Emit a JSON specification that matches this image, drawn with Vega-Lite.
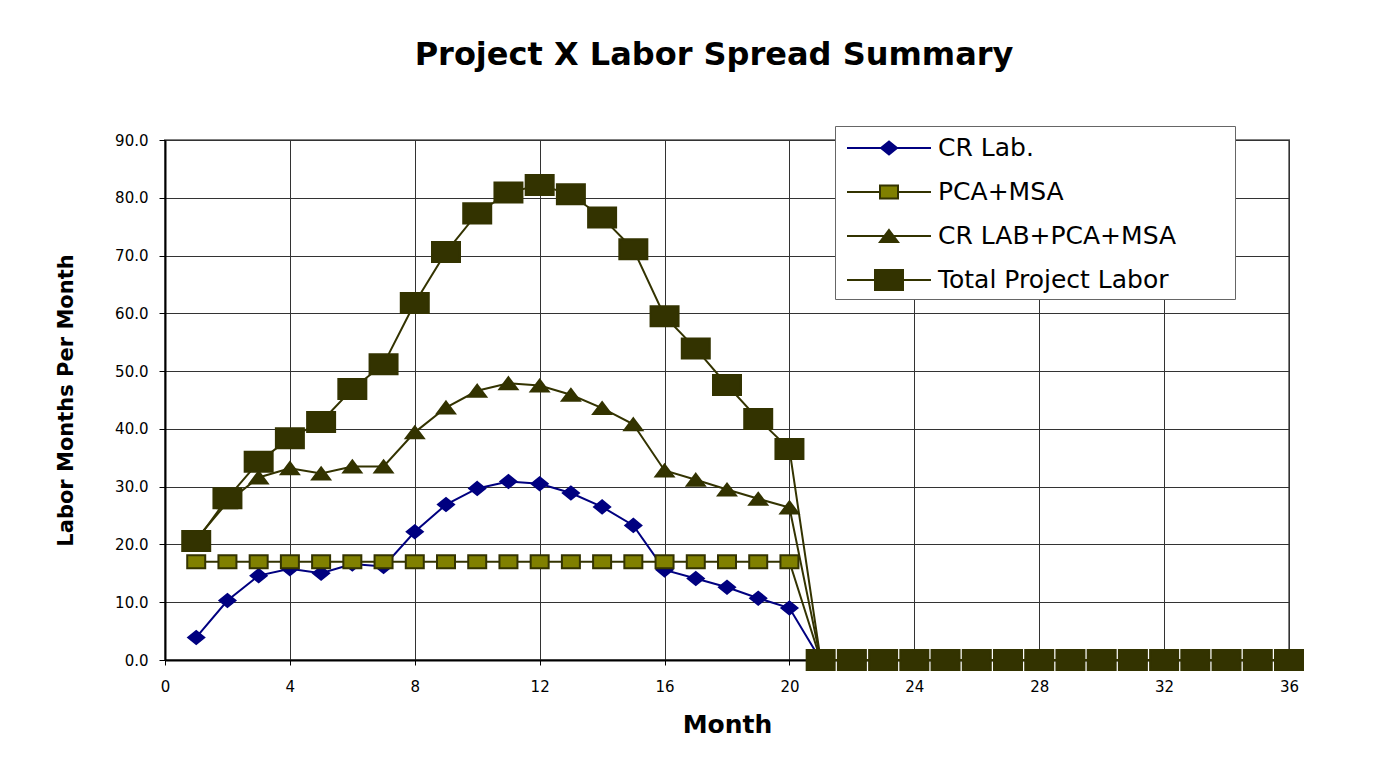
{
  "$schema": "https://vega.github.io/schema/vega-lite/v6.json",
  "width": 1124,
  "height": 520,
  "autosize": "none",
  "padding": {"left": 165, "top": 140, "right": 95, "bottom": 113},
  "background": "white",
  "title": {"text": "Project X Labor Spread Summary", "font": "DejaVu Sans", "fontSize": 32, "fontWeight": "bold", "color": "#000000", "anchor": "middle", "frame": "group", "offset": 54, "dx": -13},
  "config": {
    "view": {"stroke": "#808080", "strokeWidth": 2},
    "axis": {"labelFont": "DejaVu Sans", "labelFontSize": 15, "labelColor": "#000000", "titleFont": "DejaVu Sans", "titleFontWeight": "bold", "titleColor": "#000000", "domainColor": "#000000", "domainWidth": 2, "tickColor": "#000000", "gridColor": "#333333", "gridWidth": 1, "grid": true}
  },
  "data": {"values": [
    {"m":1,"s":"CR Lab.","v":3.9},{"m":2,"s":"CR Lab.","v":10.3},{"m":3,"s":"CR Lab.","v":14.6},{"m":4,"s":"CR Lab.","v":15.8},{"m":5,"s":"CR Lab.","v":15.0},{"m":6,"s":"CR Lab.","v":16.6},{"m":7,"s":"CR Lab.","v":16.2},{"m":8,"s":"CR Lab.","v":22.2},{"m":9,"s":"CR Lab.","v":26.9},{"m":10,"s":"CR Lab.","v":29.7},{"m":11,"s":"CR Lab.","v":30.9},{"m":12,"s":"CR Lab.","v":30.5},{"m":13,"s":"CR Lab.","v":28.9},{"m":14,"s":"CR Lab.","v":26.5},{"m":15,"s":"CR Lab.","v":23.3},{"m":16,"s":"CR Lab.","v":15.6},{"m":17,"s":"CR Lab.","v":14.1},{"m":18,"s":"CR Lab.","v":12.6},{"m":19,"s":"CR Lab.","v":10.7},{"m":20,"s":"CR Lab.","v":9.0},{"m":21,"s":"CR Lab.","v":0},{"m":22,"s":"CR Lab.","v":0},{"m":23,"s":"CR Lab.","v":0},{"m":24,"s":"CR Lab.","v":0},{"m":25,"s":"CR Lab.","v":0},{"m":26,"s":"CR Lab.","v":0},{"m":27,"s":"CR Lab.","v":0},{"m":28,"s":"CR Lab.","v":0},{"m":29,"s":"CR Lab.","v":0},{"m":30,"s":"CR Lab.","v":0},{"m":31,"s":"CR Lab.","v":0},{"m":32,"s":"CR Lab.","v":0},{"m":33,"s":"CR Lab.","v":0},{"m":34,"s":"CR Lab.","v":0},{"m":35,"s":"CR Lab.","v":0},{"m":36,"s":"CR Lab.","v":0},
    {"m":1,"s":"PCA+MSA","v":17.0},{"m":2,"s":"PCA+MSA","v":17.0},{"m":3,"s":"PCA+MSA","v":17.0},{"m":4,"s":"PCA+MSA","v":17.0},{"m":5,"s":"PCA+MSA","v":17.0},{"m":6,"s":"PCA+MSA","v":17.0},{"m":7,"s":"PCA+MSA","v":17.0},{"m":8,"s":"PCA+MSA","v":17.0},{"m":9,"s":"PCA+MSA","v":17.0},{"m":10,"s":"PCA+MSA","v":17.0},{"m":11,"s":"PCA+MSA","v":17.0},{"m":12,"s":"PCA+MSA","v":17.0},{"m":13,"s":"PCA+MSA","v":17.0},{"m":14,"s":"PCA+MSA","v":17.0},{"m":15,"s":"PCA+MSA","v":17.0},{"m":16,"s":"PCA+MSA","v":17.0},{"m":17,"s":"PCA+MSA","v":17.0},{"m":18,"s":"PCA+MSA","v":17.0},{"m":19,"s":"PCA+MSA","v":17.0},{"m":20,"s":"PCA+MSA","v":17.0},{"m":21,"s":"PCA+MSA","v":0},{"m":22,"s":"PCA+MSA","v":0},{"m":23,"s":"PCA+MSA","v":0},{"m":24,"s":"PCA+MSA","v":0},{"m":25,"s":"PCA+MSA","v":0},{"m":26,"s":"PCA+MSA","v":0},{"m":27,"s":"PCA+MSA","v":0},{"m":28,"s":"PCA+MSA","v":0},{"m":29,"s":"PCA+MSA","v":0},{"m":30,"s":"PCA+MSA","v":0},{"m":31,"s":"PCA+MSA","v":0},{"m":32,"s":"PCA+MSA","v":0},{"m":33,"s":"PCA+MSA","v":0},{"m":34,"s":"PCA+MSA","v":0},{"m":35,"s":"PCA+MSA","v":0},{"m":36,"s":"PCA+MSA","v":0},
    {"m":1,"s":"CR LAB+PCA+MSA","v":20.9},{"m":2,"s":"CR LAB+PCA+MSA","v":27.3},{"m":3,"s":"CR LAB+PCA+MSA","v":31.6},{"m":4,"s":"CR LAB+PCA+MSA","v":33.2},{"m":5,"s":"CR LAB+PCA+MSA","v":32.3},{"m":6,"s":"CR LAB+PCA+MSA","v":33.5},{"m":7,"s":"CR LAB+PCA+MSA","v":33.5},{"m":8,"s":"CR LAB+PCA+MSA","v":39.4},{"m":9,"s":"CR LAB+PCA+MSA","v":43.7},{"m":10,"s":"CR LAB+PCA+MSA","v":46.6},{"m":11,"s":"CR LAB+PCA+MSA","v":47.9},{"m":12,"s":"CR LAB+PCA+MSA","v":47.5},{"m":13,"s":"CR LAB+PCA+MSA","v":45.9},{"m":14,"s":"CR LAB+PCA+MSA","v":43.6},{"m":15,"s":"CR LAB+PCA+MSA","v":40.8},{"m":16,"s":"CR LAB+PCA+MSA","v":32.8},{"m":17,"s":"CR LAB+PCA+MSA","v":31.2},{"m":18,"s":"CR LAB+PCA+MSA","v":29.5},{"m":19,"s":"CR LAB+PCA+MSA","v":27.9},{"m":20,"s":"CR LAB+PCA+MSA","v":26.4},{"m":21,"s":"CR LAB+PCA+MSA","v":0},{"m":22,"s":"CR LAB+PCA+MSA","v":0},{"m":23,"s":"CR LAB+PCA+MSA","v":0},{"m":24,"s":"CR LAB+PCA+MSA","v":0},{"m":25,"s":"CR LAB+PCA+MSA","v":0},{"m":26,"s":"CR LAB+PCA+MSA","v":0},{"m":27,"s":"CR LAB+PCA+MSA","v":0},{"m":28,"s":"CR LAB+PCA+MSA","v":0},{"m":29,"s":"CR LAB+PCA+MSA","v":0},{"m":30,"s":"CR LAB+PCA+MSA","v":0},{"m":31,"s":"CR LAB+PCA+MSA","v":0},{"m":32,"s":"CR LAB+PCA+MSA","v":0},{"m":33,"s":"CR LAB+PCA+MSA","v":0},{"m":34,"s":"CR LAB+PCA+MSA","v":0},{"m":35,"s":"CR LAB+PCA+MSA","v":0},{"m":36,"s":"CR LAB+PCA+MSA","v":0},
    {"m":1,"s":"Total Project Labor","v":20.6},{"m":2,"s":"Total Project Labor","v":28.0},{"m":3,"s":"Total Project Labor","v":34.3},{"m":4,"s":"Total Project Labor","v":38.4},{"m":5,"s":"Total Project Labor","v":41.2},{"m":6,"s":"Total Project Labor","v":46.9},{"m":7,"s":"Total Project Labor","v":51.2},{"m":8,"s":"Total Project Labor","v":61.8},{"m":9,"s":"Total Project Labor","v":70.6},{"m":10,"s":"Total Project Labor","v":77.3},{"m":11,"s":"Total Project Labor","v":80.9},{"m":12,"s":"Total Project Labor","v":82.2},{"m":13,"s":"Total Project Labor","v":80.6},{"m":14,"s":"Total Project Labor","v":76.6},{"m":15,"s":"Total Project Labor","v":71.1},{"m":16,"s":"Total Project Labor","v":59.5},{"m":17,"s":"Total Project Labor","v":53.9},{"m":18,"s":"Total Project Labor","v":47.6},{"m":19,"s":"Total Project Labor","v":41.7},{"m":20,"s":"Total Project Labor","v":36.5},{"m":21,"s":"Total Project Labor","v":0},{"m":22,"s":"Total Project Labor","v":0},{"m":23,"s":"Total Project Labor","v":0},{"m":24,"s":"Total Project Labor","v":0},{"m":25,"s":"Total Project Labor","v":0},{"m":26,"s":"Total Project Labor","v":0},{"m":27,"s":"Total Project Labor","v":0},{"m":28,"s":"Total Project Labor","v":0},{"m":29,"s":"Total Project Labor","v":0},{"m":30,"s":"Total Project Labor","v":0},{"m":31,"s":"Total Project Labor","v":0},{"m":32,"s":"Total Project Labor","v":0},{"m":33,"s":"Total Project Labor","v":0},{"m":34,"s":"Total Project Labor","v":0},{"m":35,"s":"Total Project Labor","v":0},{"m":36,"s":"Total Project Labor","v":0}
  ]},
  "encoding": {
    "x": {"field": "m", "type": "quantitative", "scale": {"domain": [0, 36], "nice": false, "zero": false},
      "axis": {"values": [0,4,8,12,16,20,24,28,32,36], "title": "Month", "titleFontSize": 25, "titlePadding": 18, "tickSize": 5, "labelPadding": 14, "labelFlush": false}},
    "y": {"field": "v", "type": "quantitative", "scale": {"domain": [0, 90], "nice": false},
      "axis": {"values": [0,10,20,30,40,50,60,70,80,90], "format": ".1f", "title": "Labor Months Per Month", "titleFontSize": 21, "titlePadding": 38, "tickSize": 6, "labelPadding": 11}}
  },
  "layer": [
    {
      "mark": {"type": "line", "strokeWidth": 2},
      "encoding": {
        "color": {"field": "s", "type": "nominal",
          "scale": {"domain": ["CR Lab.", "PCA+MSA", "CR LAB+PCA+MSA", "Total Project Labor"], "range": ["#000080", "#333300", "#333300", "#333300"]},
          "legend": {
            "title": null, "orient": "none", "legendX": 670, "legendY": -14,
            "padding": 6, "fillColor": "white", "strokeColor": "#666666",
            "labelFont": "DejaVu Sans", "labelFontSize": 25, "labelColor": "#000000", "labelLimit": 500,
            "symbolType": "M-2.8,0H2.8M22.4,0", "symbolSize": 900, "symbolStrokeWidth": 2,
            "symbolOffset": 32, "labelOffset": 33, "rowPadding": 15
          }
        }
      }
    },
    {
      "mark": {"type": "point", "filled": true, "opacity": 1, "size": 900, "strokeWidth": 2},
      "encoding": {
        "fill": {"field": "s", "type": "nominal",
          "sort": {"field": "v", "op": "median"},
          "scale": {"range": ["#000080", "#808000", "#333300", "#333300"]},
          "legend": {
            "title": null, "orient": "none", "legendX": 670, "legendY": -14,
            "padding": 6, "labelFont": "DejaVu Sans", "labelFontSize": 25, "labelExpr": "''", "labelLimit": 500,
            "symbolSize": 900, "symbolStrokeWidth": 2, "symbolOffset": 32, "labelOffset": 33, "rowPadding": 15
          }},
        "stroke": {"field": "s", "type": "nominal",
          "sort": {"field": "v", "op": "median"},
          "scale": {"range": ["#000080", "#333300", "#333300", "#333300"]}},
        "shape": {"field": "s", "type": "nominal",
          "sort": {"field": "v", "op": "median"},
          "scale": {"range": ["M0,-0.433L0.533,0L0,0.433L-0.533,0Z", "M-0.6,-0.433H0.6V0.433H-0.6Z", "M0,-0.4L0.6,0.4L-0.6,0.4Z", "M-0.933,-0.667H0.933V0.667H-0.933Z"]}}
      }
    }
  ]
}
